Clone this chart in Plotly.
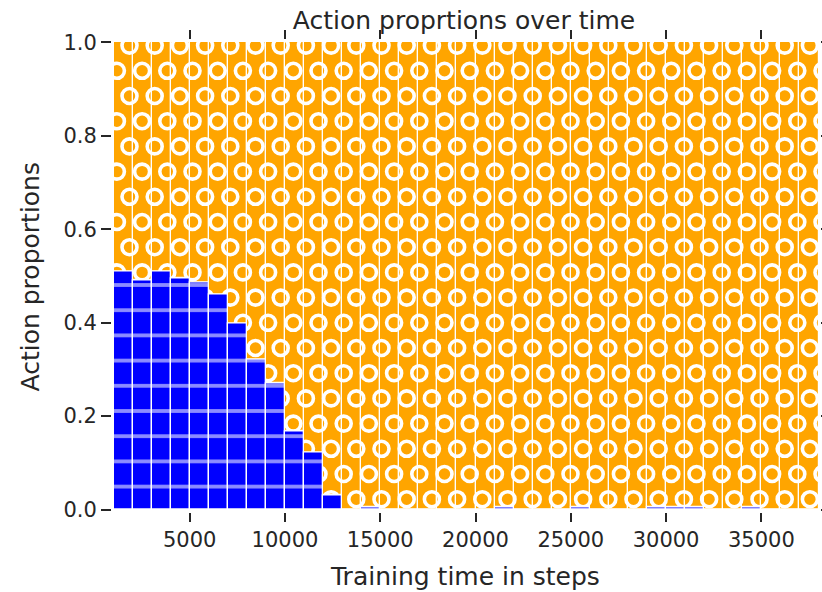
import numpy as np
import plotly.graph_objects as go

# Bins of 1000 training steps; each bar starts at its step value
steps = [1000, 2000, 3000, 4000, 5000, 6000, 7000, 8000, 9000, 10000,
         11000, 12000, 13000, 14000, 15000, 16000, 17000, 18000, 19000, 20000,
         21000, 22000, 23000, 24000, 25000, 26000, 27000, 28000, 29000, 30000,
         31000, 32000, 33000, 34000, 35000, 36000, 37000]
# Proportion of action 0 (blue) in each bin
action0 = [0.509, 0.491, 0.509, 0.495, 0.485, 0.459, 0.397, 0.320, 0.270, 0.167,
           0.122, 0.030, 0.000, 0.005, 0.000, 0.000, 0.000, 0.000, 0.000, 0.000,
           0.005, 0.000, 0.000, 0.000, 0.005, 0.000, 0.000, 0.000, 0.005, 0.005,
           0.005, 0.000, 0.000, 0.005, 0.000, 0.000, 0.000]
# Proportion of action 1 (orange) in each bin
action1 = [0.491, 0.509, 0.491, 0.505, 0.515, 0.541, 0.603, 0.680, 0.730, 0.833,
           0.878, 0.970, 1.000, 0.995, 1.000, 1.000, 1.000, 1.000, 1.000, 1.000,
           0.995, 1.000, 1.000, 1.000, 0.995, 1.000, 1.000, 1.000, 0.995, 0.995,
           0.995, 1.000, 1.000, 0.995, 1.000, 1.000, 1.000]
x_ticks = [5000, 10000, 15000, 20000, 25000, 30000, 35000]
x_tick_labels = ["5000", "10000", "15000", "20000", "25000", "30000", "35000"]
y_ticks = [0.0, 0.2, 0.4, 0.6, 0.8, 1.0]

BIN = 1000
X_MIN, X_MAX = 1000, 38000

# ---- page geometry (pixels) ----
W, H = 822, 592
ML, MR, MT, MB = 112, 2, 40, 80
PW, PH = W - ML - MR, H - MT - MB
X0_PX, X1_PX = 113.5, 818.5          # where X_MIN / X_MAX land
Y0_PX, Y1_PX = 509.5, 42.3           # where 0.0 / 1.0 land
ux = (X_MAX - X_MIN) / (X1_PX - X0_PX)
uy = 1.0 / (Y0_PX - Y1_PX)

x_range = [X_MIN - (X0_PX - ML) * ux, X_MAX + (ML + PW - X1_PX) * ux]
y_range = [-(MT + PH - Y0_PX) * uy, 1.0 + (Y1_PX - MT) * uy]

# second panel holding the blue bars: its top is shifted so the
# horizontal hatch lines fall on the right rows
HATCH = 25.2
TOP2_PX = 45.6
dom2_top = (MT + PH - TOP2_PX) / PH
y2_range = [y_range[0], 1.0 - (TOP2_PX - Y1_PX) * uy]

TXT = "#262626"
FONT = "DejaVu Sans"
ORANGE = "#FFA500"
BLUE = "#0000FF"


def px_to_x(px):
    return X_MIN + (np.asarray(px) - X0_PX) * ux


def px_to_y(py):
    return (Y0_PX - np.asarray(py)) * uy


fig = go.Figure()

# orange bars (action 1) stacked on top of the blue ones
fig.add_trace(go.Bar(
    x=steps, y=action1, base=action0, width=BIN, offset=0,
    marker=dict(color=ORANGE, line=dict(color="white", width=1.2)),
    xaxis="x", yaxis="y", showlegend=False, hoverinfo="skip",
))

# ring hatch ("O") over the orange bars: staggered lattice
ring_px, ring_py = [], []
for k in range(-12, 11):
    py = 297.6 + HATCH * k
    start = 406.7 if k % 2 == 0 else 406.7 + HATCH / 2
    for n in range(-14, 18):
        ring_px.append(start + HATCH * n)
        ring_py.append(py)
fig.add_trace(go.Scatter(
    x=px_to_x(ring_px), y=px_to_y(ring_py), mode="markers",
    marker=dict(symbol="circle-open", size=15, color="white",
                line=dict(width=3.6, color="white")),
    xaxis="x", yaxis="y", showlegend=False, hoverinfo="skip",
))

# blue bars (action 0) with horizontal-line hatch
fig.add_trace(go.Bar(
    x=steps, y=action0, width=BIN, offset=0,
    marker=dict(color=BLUE, line=dict(color="white", width=1.3),
                pattern=dict(shape="-", fgcolor="white", fgopacity=0.55,
                             size=HATCH, solidity=0.15)),
    xaxis="x2", yaxis="y2", showlegend=False, hoverinfo="skip",
))

tick_common = dict(ticks="outside", tickcolor=TXT, tickwidth=1.6,
                   mirror="ticks", showline=False, showgrid=False,
                   zeroline=False, tickfont=dict(family=FONT, size=21, color=TXT))

fig.update_layout(
    width=W, height=H,
    margin=dict(l=ML, r=MR, t=MT, b=MB, pad=0),
    paper_bgcolor="white", plot_bgcolor="rgba(0,0,0,0)",
    barmode="overlay",
    bargap=0,
    xaxis=dict(range=x_range, tickvals=x_ticks, ticktext=x_tick_labels, ticklen=9,
               domain=[0, 1], anchor="y", **tick_common),
    yaxis=dict(range=y_range, tickvals=y_ticks, tickformat=".1f", ticklen=10,
               domain=[0, 1], anchor="x", **tick_common),
    xaxis2=dict(range=x_range, domain=[0, 1], anchor="y2", visible=False),
    yaxis2=dict(range=y2_range, domain=[0, dom2_top], anchor="x2", visible=False),
    title=dict(text="Action proprtions over time",
               font=dict(family=FONT, size=25, color=TXT),
               xref="container", yref="container",
               x=464 / W, y=1 - 20 / H, xanchor="center", yanchor="middle"),
    annotations=[
        dict(text="Training time in steps", xref="paper", yref="paper",
             x=(464.5 - ML) / PW, y=(MT + PH - 576) / PH,
             xanchor="center", yanchor="middle", showarrow=False,
             font=dict(family=FONT, size=25, color=TXT)),
        dict(text="Action proportions", xref="paper", yref="paper",
             x=(30 - ML) / PW, y=(MT + PH - 276.5) / PH, textangle=-90,
             xanchor="center", yanchor="middle", showarrow=False,
             font=dict(family=FONT, size=25, color=TXT)),
    ],
)

fig.write_html("out.html")
